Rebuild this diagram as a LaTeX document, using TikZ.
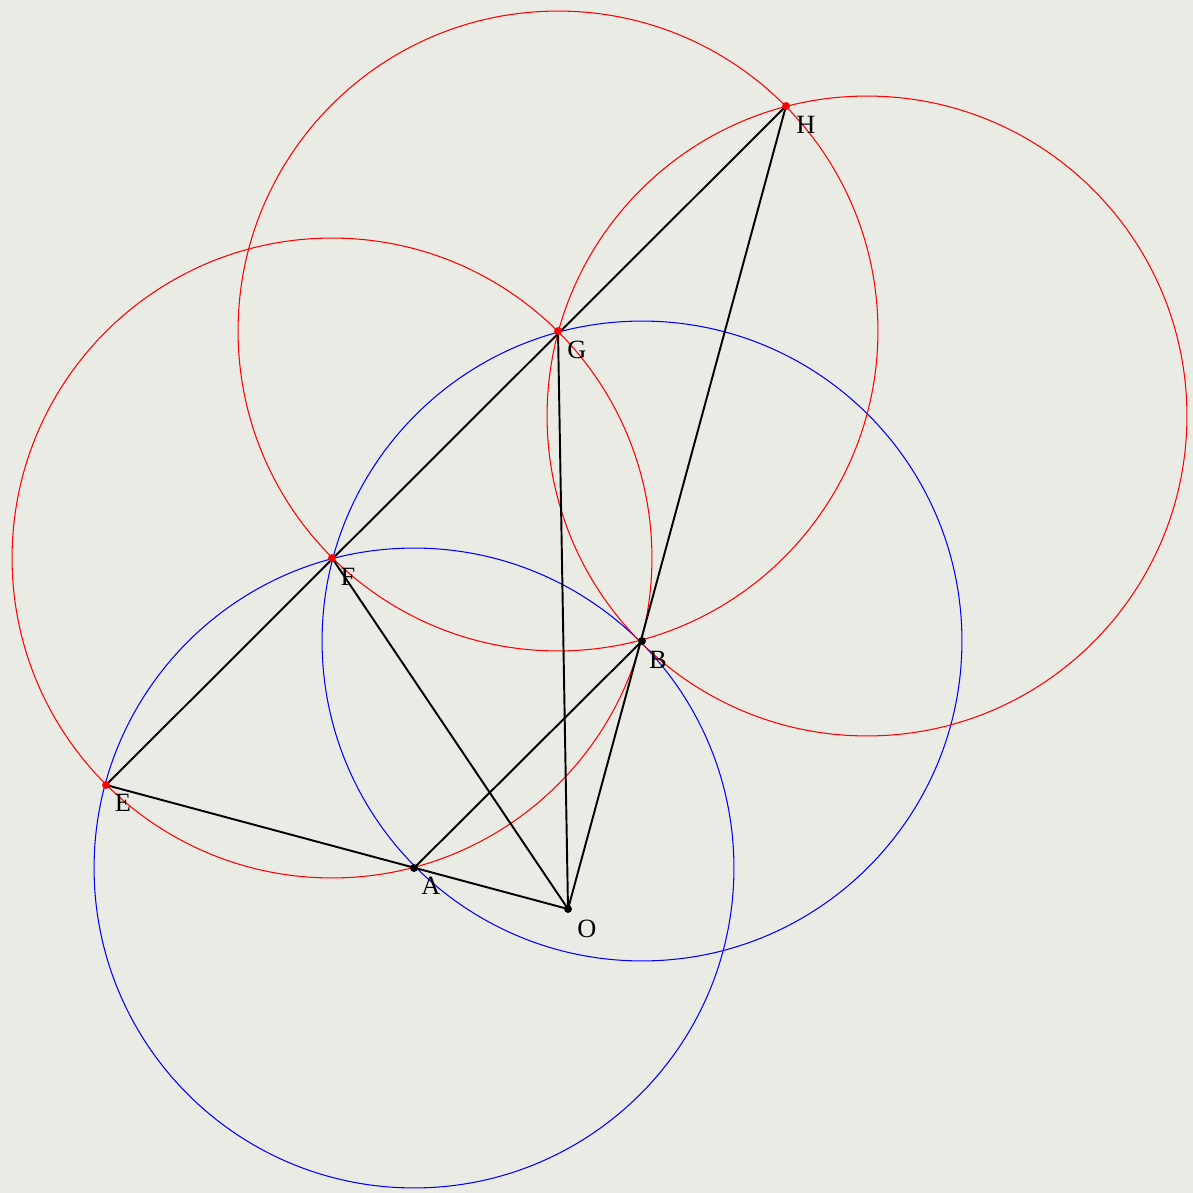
\documentclass[tikz,border=0pt]{standalone}
\usepackage{fontspec}
\setmainfont{Liberation Serif}
\usepackage{tikz}
\definecolor{bg}{RGB}{235,235,229}
\begin{document}
\begin{tikzpicture}[x=0.02cm,y=-0.02cm,
  seg/.style={black,line width=1.1pt},
  rc/.style={red,line width=0.6pt},
  bc/.style={blue,line width=0.6pt},
  rdot/.style={circle,fill=red,inner sep=0pt,minimum size=4.5pt},
  kdot/.style={circle,fill=black,inner sep=0pt,minimum size=4.5pt},
  lbl/.style={font=\fontsize{15}{18}\selectfont,inner sep=0pt}]
\fill[bg] (0,0) rectangle (1193,1193);
\useasboundingbox (0,0) rectangle (1193,1193);
\coordinate (O) at (568,909);
\coordinate (A) at (414,868);
\coordinate (B) at (642,641);
\coordinate (E) at (106,785);
\coordinate (F) at (332,558);
\coordinate (G) at (558,331);
\coordinate (H) at (786,106);
\coordinate (K) at (867,416);
% circles
\draw[bc] (A) circle[radius=6.4cm];
\draw[bc] (B) circle[radius=6.4cm];
\draw[rc] (F) circle[radius=6.4cm];
\draw[rc] (G) circle[radius=6.4cm];
\draw[rc] (K) circle[radius=6.4cm];
% segments
\draw[seg] (E) -- (H);
\draw[seg] (E) -- (O);
\draw[seg] (F) -- (O);
\draw[seg] (G) -- (O);
\draw[seg] (H) -- (O);
\draw[seg] (A) -- (B);
% points
\node[rdot] (e) at (E) {};
\node[rdot] (f) at (F) {};
\node[rdot] (g) at (G) {};
\node[rdot] (h) at (H) {};
\node[kdot] (a) at (A) {};
\node[kdot] (b) at (B) {};
\node[kdot] (o) at (O) {};
% labels
\node[lbl] (lO) at (587,929) {O};
\node[lbl] (lA) at (431,886) {A};
\node[lbl] (lB) at (658,660) {B};
\node[lbl] (lE) at (123,803) {E};
\node[lbl] (lF) at (348,577) {F};
\node[lbl] (lG) at (577,350) {G};
\node[lbl] (lH) at (806,125) {H};
\end{tikzpicture}
\end{document}
